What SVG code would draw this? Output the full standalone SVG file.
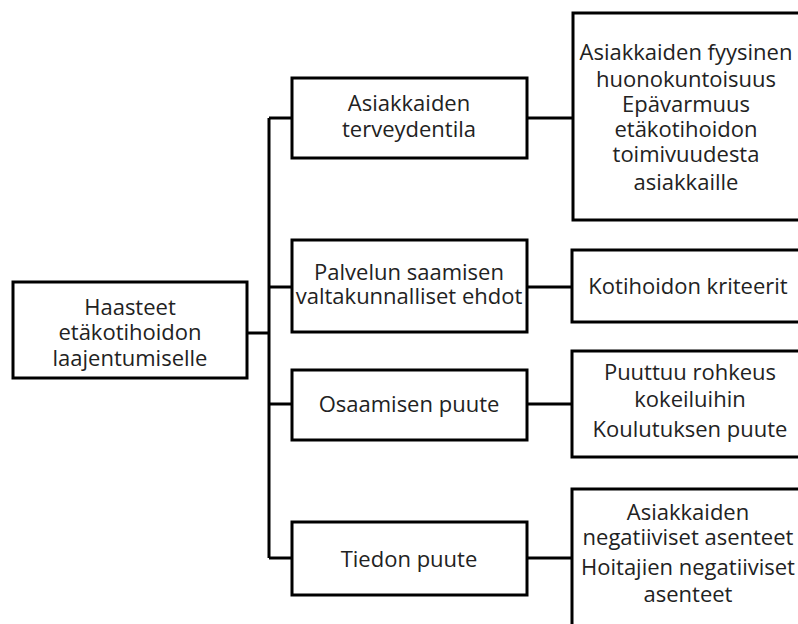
<svg xmlns="http://www.w3.org/2000/svg" width="798" height="624" viewBox="0 0 798 624">
  <style>
    .box { fill: #ffffff; stroke: #000000; stroke-width: 3; }
    .link { fill: none; stroke: #000000; stroke-width: 3; }
    text { font-family: "Open Sans", "Noto Sans", "Liberation Sans", sans-serif; font-size: 22px; fill: #222222; text-anchor: middle; }
  </style>
  <rect width="798" height="624" fill="#ffffff"/>

  <!-- connectors -->
  <g id="connectors">
    <path class="link" d="M247,333 H269"/>
    <path class="link" d="M269,118 V558"/>
    <path class="link" d="M269,118 H292"/>
    <path class="link" d="M269,287 H292"/>
    <path class="link" d="M269,404 H292"/>
    <path class="link" d="M269,558 H292"/>
    <path class="link" d="M527,118 H572"/>
    <path class="link" d="M527,287 H572"/>
    <path class="link" d="M527,404 H572"/>
    <path class="link" d="M527,558 H572"/>
  </g>

  <g id="root">
    <rect class="box" x="13" y="282" width="234" height="96"/>
    <text x="130" y="315">Haasteet</text>
    <text x="130" y="340">etäkotihoidon</text>
    <text x="130" y="366">laajentumiselle</text>
  </g>

  <g id="terveydentila">
    <rect class="box" x="292" y="78" width="235" height="80"/>
    <text x="409" y="111">Asiakkaiden</text>
    <text x="409" y="137">terveydentila</text>
  </g>

  <g id="ehdot">
    <rect class="box" x="292" y="240" width="235" height="92"/>
    <text x="409" y="280">Palvelun saamisen</text>
    <text x="409" y="304">valtakunnalliset ehdot</text>
  </g>

  <g id="osaaminen">
    <rect class="box" x="292" y="370" width="235" height="70"/>
    <text x="409" y="412">Osaamisen puute</text>
  </g>

  <g id="tieto">
    <rect class="box" x="292" y="522" width="235" height="73"/>
    <text x="409" y="567">Tiedon puute</text>
  </g>

  <g id="terveys-syyt">
    <rect class="box" x="573" y="13" width="240" height="207"/>
    <text x="686" y="60">Asiakkaiden fyysinen</text>
    <text x="686" y="87">huonokuntoisuus</text>
    <text x="686" y="112">Epävarmuus</text>
    <text x="686" y="137">etäkotihoidon</text>
    <text x="686" y="162">toimivuudesta</text>
    <text x="686" y="190">asiakkaille</text>
  </g>

  <g id="kriteerit">
    <rect class="box" x="572" y="250" width="240" height="72"/>
    <text x="688" y="294">Kotihoidon kriteerit</text>
  </g>

  <g id="osaaminen-syyt">
    <rect class="box" x="572" y="351" width="240" height="106"/>
    <text x="690" y="380">Puuttuu rohkeus</text>
    <text x="690" y="407">kokeiluihin</text>
    <text x="690" y="437">Koulutuksen puute</text>
  </g>

  <g id="tieto-syyt">
    <rect class="box" x="572" y="489" width="240" height="150"/>
    <text x="688" y="520">Asiakkaiden</text>
    <text x="688" y="545">negatiiviset asenteet</text>
    <text x="688" y="575">Hoitajien negatiiviset</text>
    <text x="688" y="602">asenteet</text>
  </g>
</svg>
